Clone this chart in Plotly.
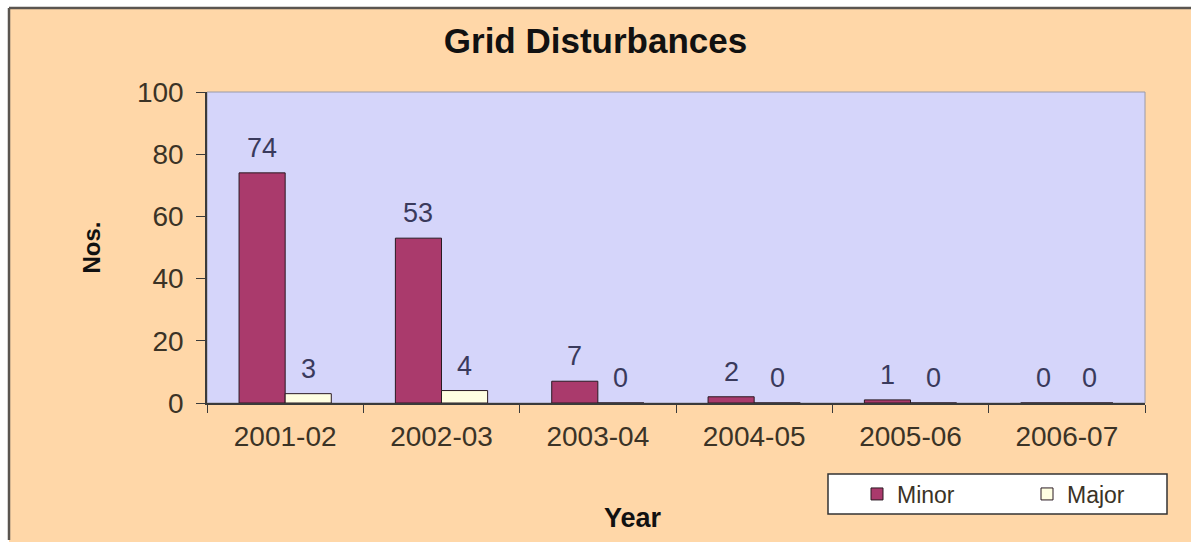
import plotly.graph_objects as go

years = ["2001-02", "2002-03", "2003-04", "2004-05", "2005-06", "2006-07"]
minor = [74, 53, 7, 2, 1, 0]
major = [3, 4, 0, 0, 0, 0]

W, H = 1191, 542
ml, mr, mt, mb = 207, 46, 92, 139
pw, ph = W - ml - mr, H - mt - mb
bar_gap = 0.41
half = pw / len(years) * (1 - bar_gap) / 4  # pixel offset of each bar centre


def px(x):
    return (x - ml) / pw


def py(y):
    return 1 - (y - mt) / ph


ink = "#3b3326"
lbl = "#3a3a5c"
fnt = "Liberation Sans, Arial, sans-serif"

trace1 = go.Bar(x=years, y=minor, name="Minor", legend="legend", showlegend=True,
                marker=dict(color="#AA3A6C", line=dict(color="#2a1a22", width=1)))
trace2 = go.Bar(x=years, y=major, name="Major", legend="legend2", showlegend=True,
                marker=dict(color="#FFFFE2", line=dict(color="#2a1a22", width=1)))

notes = []
for vals, shift in [(minor, -half), (major, half)]:
    for yr, v in zip(years, vals):
        notes.append(dict(x=yr, y=v, text=str(v), showarrow=False, xshift=shift, yshift=8,
                          yanchor="bottom", font=dict(size=27, color=lbl)))
notes.append(dict(x=px(633), y=py(518), xref="paper", yref="paper", text="<b>Year</b>",
                  showarrow=False, xanchor="center", yanchor="middle",
                  font=dict(size=27, color="#111111")))

leg = dict(orientation="h", yanchor="middle", xanchor="left", y=py(494), visible=True,
           bgcolor="rgba(0,0,0,0)", borderwidth=0, font=dict(size=23, color=ink))

fig = go.Figure(data=[trace1, trace2])
fig.update_layout(
    width=W, height=H, showlegend=True,
    margin=dict(l=ml, r=mr, t=mt, b=mb),
    paper_bgcolor="#FFD7A8", plot_bgcolor="#D5D5FA",
    font=dict(family=fnt, color=ink),
    barmode="group", bargap=bar_gap, bargroupgap=0,
    title=dict(text="<b>Grid Disturbances</b>", x=0.5, xanchor="center", y=1 - 41 / H,
               yanchor="middle", font=dict(size=35, color="#111111")),
    xaxis=dict(type="category", tickfont=dict(size=28, color=ink), showline=True,
               linecolor="#3a3a3a", linewidth=1.5, ticks="outside", tickson="boundaries",
               ticklen=8, tickcolor="#3a3a3a", ticklabelstandoff=8,
               showgrid=False, zeroline=False),
    yaxis=dict(title=dict(text="<b>Nos.</b>", font=dict(size=24, color="#111111"), standoff=30),
               range=[0, 100], dtick=20, tickfont=dict(size=28, color=ink), showline=True,
               linecolor="#3a3a3a", linewidth=1.5, ticks="outside", ticklen=9, tickcolor="#3a3a3a",
               ticklabelstandoff=7, showgrid=False, zeroline=False),
    legend=dict(leg, x=px(857)),
    legend2=dict(leg, x=px(1027)),
    annotations=notes,
    shapes=[
        # plot area frame
        dict(type="rect", xref="paper", yref="paper", x0=0, x1=1, y0=0, y1=1,
             line=dict(color="#9a9aa8", width=1), layer="below"),
        # legend box
        dict(type="rect", xref="paper", yref="paper", x0=px(828), x1=px(1167), y0=py(514), y1=py(474),
             fillcolor="#FFFFFF", line=dict(color="#333333", width=1.5)),
        # white margins at top and left
        dict(type="rect", xref="paper", yref="paper", x0=px(0), x1=px(W), y0=py(8), y1=py(0),
             fillcolor="#FFFFFF", line=dict(width=0)),
        dict(type="rect", xref="paper", yref="paper", x0=px(0), x1=px(9), y0=py(H), y1=py(0),
             fillcolor="#FFFFFF", line=dict(width=0)),
        # outer chart border top/left
        dict(type="line", xref="paper", yref="paper", x0=px(9), x1=px(W), y0=py(8), y1=py(8),
             line=dict(color="#5a5550", width=2.5)),
        dict(type="line", xref="paper", yref="paper", x0=px(9), x1=px(9), y0=py(8), y1=py(H - 2),
             line=dict(color="#5a5550", width=2.5)),
    ],
)

fig.write_html("out.html", config={"displayModeBar": False},
               post_script="document.body.style.margin='0';")
